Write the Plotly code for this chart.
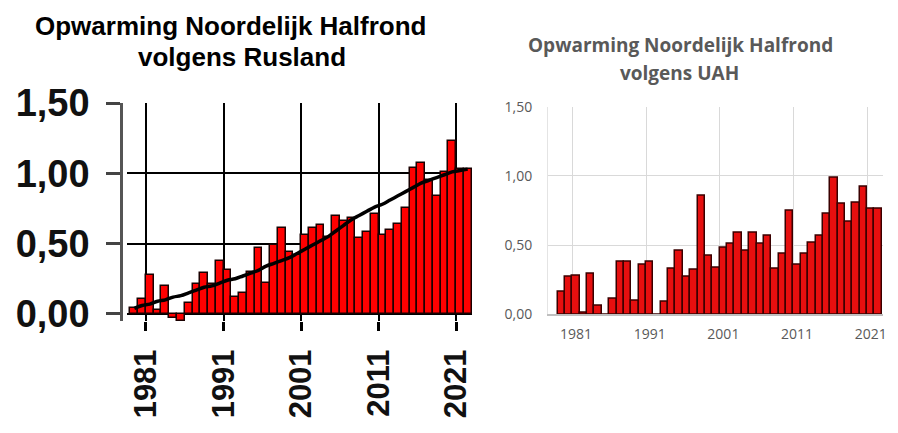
import plotly.graph_objects as go

# page body has an 8px margin, so the figure is made smaller and shifted
OFF = 8
W, H = 898 - 2 * OFF, 433 - 2 * OFF

# data
years = list(range(1979, 2023))
rusland = [0.04, 0.11, 0.28, 0.03, 0.20, -0.03, -0.05, 0.08, 0.21, 0.29,
           0.21, 0.38, 0.31, 0.12, 0.15, 0.30, 0.47, 0.22, 0.49, 0.61,
           0.44, 0.42, 0.56, 0.61, 0.63, 0.55, 0.70, 0.66, 0.68, 0.54,
           0.58, 0.71, 0.56, 0.60, 0.64, 0.75, 1.04, 1.07, 0.95, 0.84,
           1.01, 1.23, 1.03, 1.03]
rusland_trend = [0.04, 0.06, 0.07, 0.09, 0.10, 0.12, 0.13, 0.15, 0.17, 0.19,
                 0.20, 0.22, 0.24, 0.25, 0.27, 0.29, 0.31, 0.34, 0.36, 0.38,
                 0.40, 0.43, 0.46, 0.49, 0.52, 0.55, 0.59, 0.63, 0.67, 0.70,
                 0.73, 0.76, 0.78, 0.81, 0.84, 0.87, 0.90, 0.93, 0.95, 0.97,
                 0.99, 1.01, 1.02, 1.03]
uah = [0.16, 0.27, 0.28, 0.01, 0.29, 0.06, -0.05, 0.11, 0.38, 0.38,
       0.10, 0.36, 0.38, -0.05, 0.09, 0.33, 0.46, 0.27, 0.32, 0.86,
       0.42, 0.34, 0.48, 0.51, 0.59, 0.46, 0.59, 0.51, 0.57, 0.33,
       0.44, 0.75, 0.36, 0.44, 0.52, 0.57, 0.73, 0.99, 0.80, 0.67,
       0.81, 0.92, 0.76, 0.76]
tick_years = [1981, 1991, 2001, 2011, 2021]
y_ticks = [0, 0.5, 1.0, 1.5]
y_labels = ["0,00", "0,50", "1,00", "1,50"]

xc = [y + 0.5 for y in years]


def px(x):
    return (x - OFF) / W


def py(y):
    return 1 - (y - OFF) / H


fig = go.Figure()

# left: Rusland
fig.add_trace(go.Bar(
    x=xc, y=rusland, xaxis="x", yaxis="y",
    marker=dict(color="#ff0000", line=dict(color="#1a0000", width=1.5)),
    showlegend=False,
))
fig.add_trace(go.Scatter(
    x=xc, y=rusland_trend, xaxis="x", yaxis="y", mode="lines",
    line=dict(color="black", width=3.5, shape="spline"),
    showlegend=False,
))

# right: UAH
fig.add_trace(go.Bar(
    x=xc, y=uah, xaxis="x2", yaxis="y2",
    marker=dict(color="#e60f0f", line=dict(color="#3a0000", width=1.5)),
    showlegend=False,
))

fig.update_layout(
    width=W, height=H,
    margin=dict(l=0, r=0, t=0, b=0),
    paper_bgcolor="white", plot_bgcolor="white",
    bargap=0,
    xaxis=dict(
        domain=[px(127), px(472)], range=[1978.55, 2023.06], automargin=False,
        tickmode="array", tickvals=tick_years,
        ticktext=[str(t) for t in tick_years],
        tickangle=-90, ticks="outside", ticklen=9, tickwidth=3, tickcolor="black",
        showgrid=True, gridcolor="black", gridwidth=1.5,
        showline=False, zeroline=False,
        tickfont=dict(family="Liberation Sans", size=31, color="#111", weight="bold"),
        ticklabelstandoff=6,
    ),
    yaxis=dict(
        domain=[py(321), py(103)], range=[-0.05, 1.5], automargin=False,
        anchor="free", position=px(121),
        tickmode="array", tickvals=y_ticks, ticktext=y_labels,
        ticks="outside", ticklen=14, tickwidth=2.5, tickcolor="#444",
        showline=True, linecolor="#555", linewidth=2.5,
        showgrid=True, gridcolor="black", gridwidth=1.5, zeroline=False,
        tickfont=dict(family="Liberation Sans", size=38, color="#111", weight="bold"),
        ticklabelstandoff=9,
    ),
    xaxis2=dict(
        domain=[px(548), px(883)], range=[1977.7, 2023.16], anchor="y2",
        automargin=False,
        tickmode="array", tickvals=[t + 0.5 for t in tick_years],
        ticktext=[str(t) for t in tick_years],
        ticks="", showgrid=False,
        minor=dict(tickmode="array", tickvals=tick_years, showgrid=True,
                   gridcolor="#d9d9d9", gridwidth=1, ticks=""),
        showline=True, linecolor="#bfbfbf", linewidth=1.5, zeroline=False,
        tickfont=dict(family="Open Sans", size=14, color="#595959"),
        ticklabelstandoff=6,
    ),
    yaxis2=dict(
        domain=[py(314.3), py(106.7)], range=[0, 1.5], anchor="x2",
        automargin=False,
        tickmode="array", tickvals=y_ticks, ticktext=y_labels,
        ticks="", showline=True, linecolor="#e4e4e4", linewidth=1,
        showgrid=True, gridcolor="#d9d9d9", gridwidth=1, zeroline=False,
        tickfont=dict(family="Open Sans", size=14, color="#595959"),
        ticklabelstandoff=12,
    ),
    annotations=[
        dict(text="Opwarming Noordelijk Halfrond", x=px(230), y=py(26),
             xref="paper", yref="paper", showarrow=False,
             xanchor="center", yanchor="middle",
             font=dict(family="Liberation Sans", size=26, color="black", weight="bold")),
        dict(text="volgens Rusland", x=px(242), y=py(57),
             xref="paper", yref="paper", showarrow=False,
             xanchor="center", yanchor="middle",
             font=dict(family="Liberation Sans", size=26, color="black", weight="bold")),
        dict(text="Opwarming Noordelijk Halfrond", x=px(680), y=py(45),
             xref="paper", yref="paper", showarrow=False,
             xanchor="center", yanchor="middle",
             font=dict(family="Open Sans", size=19, color="#595959", weight="bold")),
        dict(text="volgens UAH", x=px(679), y=py(73),
             xref="paper", yref="paper", showarrow=False,
             xanchor="center", yanchor="middle",
             font=dict(family="Open Sans", size=19, color="#595959", weight="bold")),
    ],
)

fig.write_html("out.html")
